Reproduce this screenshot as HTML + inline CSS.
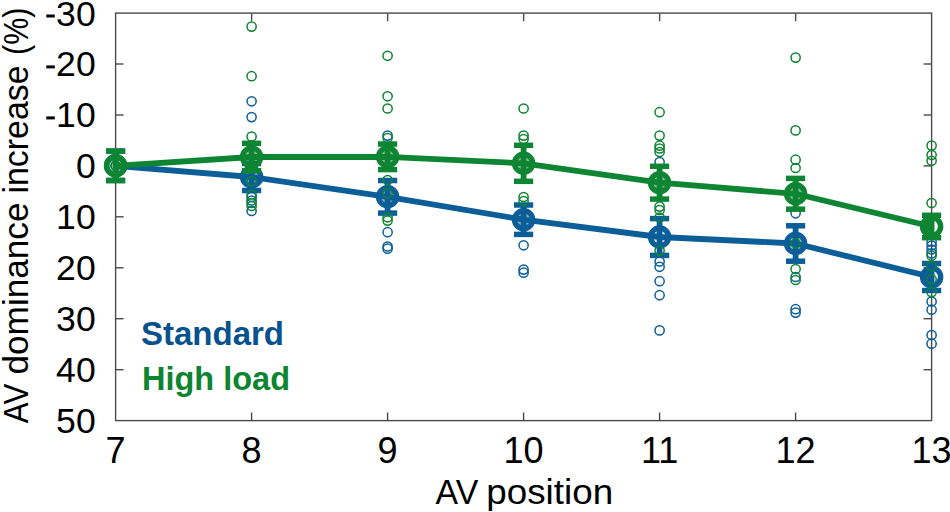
<!DOCTYPE html><html><head><meta charset="utf-8"><style>html,body{margin:0;padding:0;background:#fff;}svg{display:block;}text{font-family:"Liberation Sans",sans-serif;}</style></head><body>
<svg width="950" height="512" viewBox="0 0 950 512">
<rect width="950" height="512" fill="#fff"/>
<g stroke="#4a4a4a" stroke-width="1.4" fill="none">
<rect x="115.6" y="13.1" width="816.0" height="407.5"/>
<line x1="115.6" y1="64.0" x2="123.6" y2="64.0"/>
<line x1="931.6" y1="64.0" x2="923.6" y2="64.0"/>
<line x1="115.6" y1="115.0" x2="123.6" y2="115.0"/>
<line x1="931.6" y1="115.0" x2="923.6" y2="115.0"/>
<line x1="115.6" y1="165.9" x2="123.6" y2="165.9"/>
<line x1="931.6" y1="165.9" x2="923.6" y2="165.9"/>
<line x1="115.6" y1="216.8" x2="123.6" y2="216.8"/>
<line x1="931.6" y1="216.8" x2="923.6" y2="216.8"/>
<line x1="115.6" y1="267.8" x2="123.6" y2="267.8"/>
<line x1="931.6" y1="267.8" x2="923.6" y2="267.8"/>
<line x1="115.6" y1="318.7" x2="123.6" y2="318.7"/>
<line x1="931.6" y1="318.7" x2="923.6" y2="318.7"/>
<line x1="115.6" y1="369.7" x2="123.6" y2="369.7"/>
<line x1="931.6" y1="369.7" x2="923.6" y2="369.7"/>
<line x1="251.6" y1="420.6" x2="251.6" y2="412.6"/>
<line x1="251.6" y1="13.1" x2="251.6" y2="21.1"/>
<line x1="387.6" y1="420.6" x2="387.6" y2="412.6"/>
<line x1="387.6" y1="13.1" x2="387.6" y2="21.1"/>
<line x1="523.6" y1="420.6" x2="523.6" y2="412.6"/>
<line x1="523.6" y1="13.1" x2="523.6" y2="21.1"/>
<line x1="659.6" y1="420.6" x2="659.6" y2="412.6"/>
<line x1="659.6" y1="13.1" x2="659.6" y2="21.1"/>
<line x1="795.6" y1="420.6" x2="795.6" y2="412.6"/>
<line x1="795.6" y1="13.1" x2="795.6" y2="21.1"/>
</g>
<g fill="none" stroke="#0b5e98" stroke-width="1.5">
<circle cx="115.6" cy="165.8" r="4.6"/>
<circle cx="251.6" cy="101.3" r="4.6"/>
<circle cx="251.6" cy="117.1" r="4.6"/>
<circle cx="251.6" cy="197.0" r="4.6"/>
<circle cx="251.6" cy="200.5" r="4.6"/>
<circle cx="251.6" cy="211.0" r="4.6"/>
<circle cx="387.6" cy="135.6" r="4.6"/>
<circle cx="387.6" cy="232.2" r="4.6"/>
<circle cx="387.6" cy="246.5" r="4.6"/>
<circle cx="387.6" cy="248.7" r="4.6"/>
<circle cx="523.6" cy="245.3" r="4.6"/>
<circle cx="523.6" cy="269.6" r="4.6"/>
<circle cx="523.6" cy="272.7" r="4.6"/>
<circle cx="659.6" cy="162.0" r="4.6"/>
<circle cx="659.6" cy="261.5" r="4.6"/>
<circle cx="659.6" cy="266.8" r="4.6"/>
<circle cx="659.6" cy="281.2" r="4.6"/>
<circle cx="659.6" cy="295.2" r="4.6"/>
<circle cx="659.6" cy="330.4" r="4.6"/>
<circle cx="795.6" cy="213.3" r="4.6"/>
<circle cx="795.6" cy="277.0" r="4.6"/>
<circle cx="795.6" cy="309.2" r="4.6"/>
<circle cx="795.6" cy="312.6" r="4.6"/>
<circle cx="931.6" cy="241.7" r="4.6"/>
<circle cx="931.6" cy="245.5" r="4.6"/>
<circle cx="931.6" cy="249.5" r="4.6"/>
<circle cx="931.6" cy="253.4" r="4.6"/>
<circle cx="931.6" cy="301.5" r="4.6"/>
<circle cx="931.6" cy="309.7" r="4.6"/>
<circle cx="931.6" cy="335.0" r="4.6"/>
<circle cx="931.6" cy="343.7" r="4.6"/>
</g>
<polyline points="115.6,165.8 251.6,177.0 387.6,196.8 523.6,219.7 659.6,237.0 795.6,243.5 931.6,277.0" fill="none" stroke="#0b5e98" stroke-width="5.8" stroke-linejoin="round"/>
<g stroke="#0b5e98" fill="none">
<line x1="115.6" y1="151.1" x2="115.6" y2="180.5" stroke-width="5.8"/>
<line x1="106.0" y1="151.1" x2="125.2" y2="151.1" stroke-width="5.5"/>
<line x1="106.0" y1="180.5" x2="125.2" y2="180.5" stroke-width="5.5"/>
<circle cx="115.6" cy="165.8" r="9.0" stroke-width="5.5"/>
<line x1="251.6" y1="163.5" x2="251.6" y2="190.5" stroke-width="5.8"/>
<line x1="242.0" y1="163.5" x2="261.2" y2="163.5" stroke-width="5.5"/>
<line x1="242.0" y1="190.5" x2="261.2" y2="190.5" stroke-width="5.5"/>
<circle cx="251.6" cy="177.0" r="6.3" fill="#0b5e98" fill-opacity="0.5" stroke="none"/>
<circle cx="251.6" cy="177.0" r="9.0" stroke-width="5.5"/>
<line x1="387.6" y1="180.5" x2="387.6" y2="213.1" stroke-width="5.8"/>
<line x1="378.0" y1="180.5" x2="397.2" y2="180.5" stroke-width="5.5"/>
<line x1="378.0" y1="213.1" x2="397.2" y2="213.1" stroke-width="5.5"/>
<circle cx="387.6" cy="196.8" r="6.3" fill="#0b5e98" fill-opacity="0.5" stroke="none"/>
<circle cx="387.6" cy="196.8" r="9.0" stroke-width="5.5"/>
<line x1="523.6" y1="205.0" x2="523.6" y2="234.4" stroke-width="5.8"/>
<line x1="514.0" y1="205.0" x2="533.2" y2="205.0" stroke-width="5.5"/>
<line x1="514.0" y1="234.4" x2="533.2" y2="234.4" stroke-width="5.5"/>
<circle cx="523.6" cy="219.7" r="6.3" fill="#0b5e98" fill-opacity="0.5" stroke="none"/>
<circle cx="523.6" cy="219.7" r="9.0" stroke-width="5.5"/>
<line x1="659.6" y1="218.6" x2="659.6" y2="255.4" stroke-width="5.8"/>
<line x1="650.0" y1="218.6" x2="669.2" y2="218.6" stroke-width="5.5"/>
<line x1="650.0" y1="255.4" x2="669.2" y2="255.4" stroke-width="5.5"/>
<circle cx="659.6" cy="237.0" r="6.3" fill="#0b5e98" fill-opacity="0.1" stroke="none"/>
<circle cx="659.6" cy="237.0" r="9.0" stroke-width="5.5"/>
<line x1="795.6" y1="225.8" x2="795.6" y2="261.2" stroke-width="5.8"/>
<line x1="786.0" y1="225.8" x2="805.2" y2="225.8" stroke-width="5.5"/>
<line x1="786.0" y1="261.2" x2="805.2" y2="261.2" stroke-width="5.5"/>
<circle cx="795.6" cy="243.5" r="6.3" fill="#0b5e98" fill-opacity="0.3" stroke="none"/>
<circle cx="795.6" cy="243.5" r="9.0" stroke-width="5.5"/>
<line x1="931.6" y1="263.5" x2="931.6" y2="290.5" stroke-width="5.8"/>
<line x1="922.0" y1="263.5" x2="941.2" y2="263.5" stroke-width="5.5"/>
<line x1="922.0" y1="290.5" x2="941.2" y2="290.5" stroke-width="5.5"/>
<circle cx="931.6" cy="277.0" r="9.0" stroke-width="5.5"/>
<path d="M930.1,270.8 A6.2,6.2 0 0,0 930.1,283.2 Z" fill="#0b5e98" stroke="none"/>
</g>
<g fill="none" stroke="#0e8532" stroke-width="1.5">
<circle cx="115.6" cy="165.8" r="4.6"/>
<circle cx="251.6" cy="26.6" r="4.6"/>
<circle cx="251.6" cy="76.2" r="4.6"/>
<circle cx="251.6" cy="136.5" r="4.6"/>
<circle cx="251.6" cy="181.3" r="4.6"/>
<circle cx="251.6" cy="194.5" r="4.6"/>
<circle cx="251.6" cy="203.0" r="4.6"/>
<circle cx="251.6" cy="206.0" r="4.6"/>
<circle cx="387.6" cy="55.8" r="4.6"/>
<circle cx="387.6" cy="96.3" r="4.6"/>
<circle cx="387.6" cy="108.5" r="4.6"/>
<circle cx="387.6" cy="138.0" r="4.6"/>
<circle cx="387.6" cy="180.0" r="4.6"/>
<circle cx="387.6" cy="193.3" r="4.6"/>
<circle cx="387.6" cy="217.3" r="4.6"/>
<circle cx="387.6" cy="220.6" r="4.6"/>
<circle cx="523.6" cy="108.5" r="4.6"/>
<circle cx="523.6" cy="135.6" r="4.6"/>
<circle cx="523.6" cy="139.0" r="4.6"/>
<circle cx="523.6" cy="197.0" r="4.6"/>
<circle cx="523.6" cy="201.0" r="4.6"/>
<circle cx="659.6" cy="112.2" r="4.6"/>
<circle cx="659.6" cy="135.6" r="4.6"/>
<circle cx="659.6" cy="145.7" r="4.6"/>
<circle cx="659.6" cy="148.5" r="4.6"/>
<circle cx="659.6" cy="152.0" r="4.6"/>
<circle cx="659.6" cy="206.6" r="4.6"/>
<circle cx="659.6" cy="210.0" r="4.6"/>
<circle cx="659.6" cy="217.5" r="4.6"/>
<circle cx="659.6" cy="250.6" r="4.6"/>
<circle cx="795.6" cy="57.6" r="4.6"/>
<circle cx="795.6" cy="130.4" r="4.6"/>
<circle cx="795.6" cy="159.7" r="4.6"/>
<circle cx="795.6" cy="168.0" r="4.6"/>
<circle cx="795.6" cy="243.3" r="4.6"/>
<circle cx="795.6" cy="269.0" r="4.6"/>
<circle cx="795.6" cy="280.0" r="4.6"/>
<circle cx="931.6" cy="145.6" r="4.6"/>
<circle cx="931.6" cy="155.0" r="4.6"/>
<circle cx="931.6" cy="160.8" r="4.6"/>
<circle cx="931.6" cy="203.0" r="4.6"/>
<circle cx="931.6" cy="255.8" r="4.6"/>
<circle cx="931.6" cy="266.3" r="4.6"/>
<circle cx="931.6" cy="279.2" r="4.6"/>
<circle cx="931.6" cy="292.1" r="4.6"/>
</g>
<polyline points="115.6,165.8 251.6,157.0 387.6,156.8 523.6,163.3 659.6,182.7 795.6,193.8 931.6,226.5" fill="none" stroke="#0e8532" stroke-width="5.8" stroke-linejoin="round"/>
<g stroke="#0e8532" fill="none">
<line x1="115.6" y1="151.1" x2="115.6" y2="180.5" stroke-width="5.8"/>
<line x1="106.0" y1="151.1" x2="125.2" y2="151.1" stroke-width="5.5"/>
<line x1="106.0" y1="180.5" x2="125.2" y2="180.5" stroke-width="5.5"/>
<circle cx="115.6" cy="165.8" r="9.0" stroke-width="5.5"/>
<line x1="251.6" y1="143.3" x2="251.6" y2="170.7" stroke-width="5.8"/>
<line x1="242.0" y1="143.3" x2="261.2" y2="143.3" stroke-width="5.5"/>
<line x1="242.0" y1="170.7" x2="261.2" y2="170.7" stroke-width="5.5"/>
<circle cx="251.6" cy="157.0" r="6.3" fill="#0e8532" fill-opacity="0.5" stroke="none"/>
<circle cx="251.6" cy="157.0" r="9.0" stroke-width="5.5"/>
<line x1="387.6" y1="144.0" x2="387.6" y2="169.6" stroke-width="5.8"/>
<line x1="378.0" y1="144.0" x2="397.2" y2="144.0" stroke-width="5.5"/>
<line x1="378.0" y1="169.6" x2="397.2" y2="169.6" stroke-width="5.5"/>
<circle cx="387.6" cy="156.8" r="6.3" fill="#0e8532" fill-opacity="0.5" stroke="none"/>
<circle cx="387.6" cy="156.8" r="9.0" stroke-width="5.5"/>
<line x1="523.6" y1="145.3" x2="523.6" y2="181.3" stroke-width="5.8"/>
<line x1="514.0" y1="145.3" x2="533.2" y2="145.3" stroke-width="5.5"/>
<line x1="514.0" y1="181.3" x2="533.2" y2="181.3" stroke-width="5.5"/>
<circle cx="523.6" cy="163.3" r="6.3" fill="#0e8532" fill-opacity="0.5" stroke="none"/>
<circle cx="523.6" cy="163.3" r="9.0" stroke-width="5.5"/>
<line x1="659.6" y1="166.3" x2="659.6" y2="199.1" stroke-width="5.8"/>
<line x1="650.0" y1="166.3" x2="669.2" y2="166.3" stroke-width="5.5"/>
<line x1="650.0" y1="199.1" x2="669.2" y2="199.1" stroke-width="5.5"/>
<circle cx="659.6" cy="182.7" r="6.3" fill="#0e8532" fill-opacity="0.5" stroke="none"/>
<circle cx="659.6" cy="182.7" r="9.0" stroke-width="5.5"/>
<line x1="795.6" y1="178.4" x2="795.6" y2="209.2" stroke-width="5.8"/>
<line x1="786.0" y1="178.4" x2="805.2" y2="178.4" stroke-width="5.5"/>
<line x1="786.0" y1="209.2" x2="805.2" y2="209.2" stroke-width="5.5"/>
<circle cx="795.6" cy="193.8" r="6.3" fill="#0e8532" fill-opacity="0.5" stroke="none"/>
<circle cx="795.6" cy="193.8" r="9.0" stroke-width="5.5"/>
<line x1="931.6" y1="215.3" x2="931.6" y2="237.7" stroke-width="5.8"/>
<line x1="922.0" y1="215.3" x2="941.2" y2="215.3" stroke-width="5.5"/>
<line x1="922.0" y1="237.7" x2="941.2" y2="237.7" stroke-width="5.5"/>
<circle cx="931.6" cy="226.5" r="9.0" stroke-width="5.5"/>
<path d="M930.1,220.3 A6.2,6.2 0 0,0 930.1,232.7 Z" fill="#0e8532" stroke="none"/>
</g>
<g font-size="35.6" fill="#000">
<text x="95.7" y="25.5" text-anchor="end">30</text>
<rect x="46.3" y="14.5" width="8.5" height="3" fill="#000"/>
<text x="95.7" y="76.4" text-anchor="end">20</text>
<rect x="46.3" y="65.4" width="8.5" height="3" fill="#000"/>
<text x="95.7" y="127.4" text-anchor="end">10</text>
<rect x="46.3" y="116.4" width="8.5" height="3" fill="#000"/>
<text x="95.7" y="178.3" text-anchor="end">0</text>
<text x="95.7" y="229.2" text-anchor="end">10</text>
<text x="95.7" y="280.2" text-anchor="end">20</text>
<text x="95.7" y="331.1" text-anchor="end">30</text>
<text x="95.7" y="382.1" text-anchor="end">40</text>
<text x="95.7" y="433.0" text-anchor="end">50</text>
</g>
<g font-size="36" fill="#000">
<text x="115.6" y="462.8" text-anchor="middle">7</text>
<text x="251.6" y="462.8" text-anchor="middle">8</text>
<text x="387.6" y="462.8" text-anchor="middle">9</text>
<text x="523.6" y="462.8" text-anchor="middle">10</text>
<text x="659.6" y="462.8" text-anchor="middle">11</text>
<text x="795.6" y="462.8" text-anchor="middle">12</text>
<text x="931.6" y="462.8" text-anchor="middle">13</text>
</g>
<text x="435.6" y="504.2" font-size="34.5" textLength="42.6" lengthAdjust="spacingAndGlyphs">AV</text>
<text x="486.3" y="504.2" font-size="34.5" textLength="126.8" lengthAdjust="spacingAndGlyphs">position</text>
<text transform="translate(27.6,423.2) rotate(-90)" font-size="34.5" textLength="39.5" lengthAdjust="spacingAndGlyphs">AV</text>
<text transform="translate(27.6,374.5) rotate(-90)" font-size="34.5" textLength="172" lengthAdjust="spacingAndGlyphs">dominance</text>
<text transform="translate(27.6,193.5) rotate(-90)" font-size="34.5" textLength="128" lengthAdjust="spacingAndGlyphs">increase</text>
<text transform="translate(27.6,55) rotate(-90)" font-size="34.5" textLength="47.5" lengthAdjust="spacingAndGlyphs">(%)</text>
<text x="141" y="344.9" font-size="33" font-weight="bold" fill="#07528e" textLength="143" lengthAdjust="spacingAndGlyphs">Standard</text>
<text x="142" y="390.2" font-size="33" font-weight="bold" fill="#0c8430" textLength="148" lengthAdjust="spacingAndGlyphs">High load</text>
</svg></body></html>
